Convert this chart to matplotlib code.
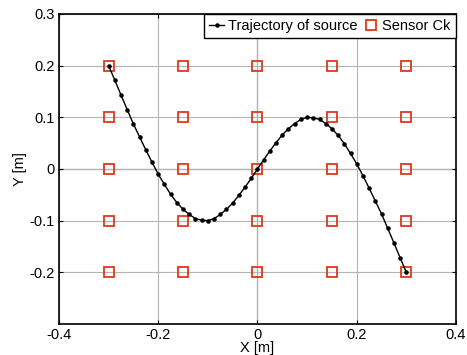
import matplotlib.pyplot as plt
import numpy as np

plt.rcParams['font.family'] = ['Liberation Sans', 'DejaVu Sans']
plt.rcParams['font.size'] = 10.5

# trajectory of source
traj_x = [-0.3, -0.2875, -0.275, -0.2625, -0.25, -0.2375, -0.225, -0.2125, -0.2,
          -0.1875, -0.175, -0.1625, -0.15, -0.1375, -0.125, -0.1125, -0.1,
          -0.0875, -0.075, -0.0625, -0.05, -0.0375, -0.025, -0.0125, 0.0,
          0.0125, 0.025, 0.0375, 0.05, 0.0625, 0.075, 0.0875, 0.1,
          0.1125, 0.125, 0.1375, 0.15, 0.1625, 0.175, 0.1875, 0.2,
          0.2125, 0.225, 0.2375, 0.25, 0.2625, 0.275, 0.2875, 0.3]
traj_y = [0.200, 0.172, 0.143, 0.115, 0.087, 0.062, 0.037, 0.013, -0.010,
          -0.030, -0.049, -0.065, -0.078, -0.088, -0.096, -0.099, -0.100,
          -0.096, -0.088, -0.078, -0.066, -0.051, -0.035, -0.018, 0.000,
          0.018, 0.035, 0.051, 0.066, 0.078, 0.088, 0.096, 0.100,
          0.099, 0.096, 0.088, 0.078, 0.065, 0.049, 0.030, 0.010,
          -0.013, -0.037, -0.062, -0.087, -0.115, -0.143, -0.172, -0.200]

# sensor grid
sensor_cols = [-0.3, -0.15, 0.0, 0.15, 0.3]
sensor_rows = [-0.2, -0.1, 0.0, 0.1, 0.2]
sx, sy = np.meshgrid(sensor_cols, sensor_rows)

fig = plt.figure(figsize=(4.67, 3.55), dpi=100)
ax = fig.add_axes([0.1263, 0.0873, 0.8501, 0.8733])

ax.grid(True, color='#b4b4b4', linewidth=0.8)
ax.axhline(0, color='black', linewidth=0.8, zorder=1)
ax.axvline(0, color='black', linewidth=0.8, zorder=1)

ax.plot(traj_x, traj_y, '-', marker='.', color='black', linewidth=1.0,
        markersize=4.5, label='Trajectory of source', zorder=3)
ax.plot(sx.ravel(), sy.ravel(), 's', markerfacecolor='none',
        markeredgecolor='#e0381a', markeredgewidth=1.3, markersize=6.5,
        label='Sensor Ck', zorder=2)

ax.set_xlim(-0.4, 0.4)
ax.set_ylim(-0.3, 0.3)
ax.set_xticks([-0.4, -0.2, 0, 0.2, 0.4])
ax.set_xticklabels(['-0.4', '-0.2', '0', '0.2', '0.4'])
ax.set_yticks([-0.2, -0.1, 0, 0.1, 0.2, 0.3])
ax.set_yticklabels(['-0.2', '-0.1', '0', '0.1', '0.2', '0.3'])
ax.tick_params(direction='in', top=True, right=True, length=3, pad=3)
for s in ax.spines.values():
    s.set_linewidth(1.2)

ax.set_xlabel('X [m]', labelpad=-1)
ax.set_ylabel('Y [m]', labelpad=2)

leg = ax.legend(loc='upper right', ncol=2, frameon=True, fancybox=False,
                edgecolor='black', framealpha=1, borderaxespad=0,
                handlelength=1.0, handletextpad=0.3, columnspacing=0.4,
                borderpad=0.35, fontsize=10.5)
leg.get_frame().set_linewidth(1.0)

fig.savefig('out.png', dpi=100)
